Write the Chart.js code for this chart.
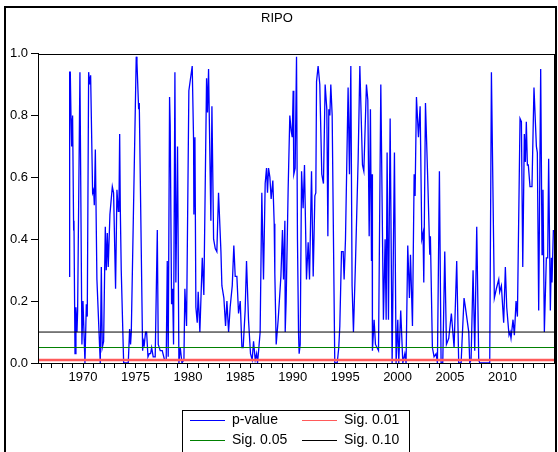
<!DOCTYPE html>
<html>
<head>
<meta charset="utf-8">
<script src="https://cdn.jsdelivr.net/npm/chart.js@4.4.1/dist/chart.umd.min.js"></script>
<style>
  body { margin: 0; background: #fff; }
  #wrap { width: 558px; height: 452px; }
</style>
</head>
<body>
<div id="wrap"><canvas id="ripo" width="558" height="452"></canvas></div>
<script>
// p-value series (decimal year, value)
var years = [1968.66,1968.72,1968.78,1968.85,1968.91,1969.00,1969.10,1969.13,1969.23,1969.32,1969.42,1969.48,1969.70,1969.89,1969.99,
  1970.18,1970.31,1970.40,1970.53,1970.63,1970.72,1970.91,1971.01,1971.07,1971.17,1971.32,1971.64,1971.74,1971.83,1971.96,
  1972.12,1972.21,1972.31,1972.40,1972.56,1972.79,1972.91,1973.10,1973.23,1973.36,1973.42,1973.49,1973.55,1973.64,1973.87,
  1974.31,1974.44,1974.53,1974.60,1975.07,1975.14,1975.30,1975.36,1975.68,1975.77,1975.84,1975.96,1976.06,1976.19,1976.31,
  1976.44,1976.54,1976.69,1976.88,1977.08,1977.17,1977.36,1977.55,1977.77,1977.93,1978.03,1978.12,1978.25,1978.31,1978.44,
  1978.54,1978.63,1978.76,1978.85,1979.01,1979.14,1979.27,1979.43,1979.62,1979.71,1979.87,1980.09,1980.41,1980.54,1980.57,
  1980.67,1980.76,1980.89,1980.98,1981.14,1981.37,1981.52,1981.78,1981.87,1981.97,1982.19,1982.29,1982.45,1982.61,1982.76,
  1982.92,1983.15,1983.24,1983.43,1983.59,1983.72,1983.88,1984.03,1984.23,1984.38,1984.51,1984.67,1984.83,1984.99,1985.15,
  1985.27,1985.46,1985.59,1985.78,1985.97,1986.13,1986.26,1986.42,1986.55,1986.64,1986.77,1986.89,1987.05,1987.21,1987.37,
  1987.50,1987.59,1987.69,1987.82,1987.94,1988.10,1988.23,1988.29,1988.42,1988.61,1988.87,1989.02,1989.12,1989.25,1989.28,
  1989.37,1989.56,1989.72,1989.85,1989.95,1990.04,1990.10,1990.23,1990.36,1990.45,1990.55,1990.61,1990.71,1990.84,1990.99,
  1991.12,1991.31,1991.47,1991.60,1991.79,1991.95,1992.11,1992.20,1992.27,1992.42,1992.58,1992.77,1992.93,1993.09,1993.25,
  1993.35,1993.44,1993.54,1993.63,1993.76,1994.01,1994.24,1994.39,1994.49,1994.65,1994.81,1994.90,1995.03,1995.28,1995.41,
  1995.54,1995.66,1995.79,1995.98,1996.24,1996.40,1996.65,1996.78,1997.03,1997.16,1997.29,1997.41,1997.51,1997.57,1997.60,
  1997.76,1997.89,1998.18,1998.40,1998.65,1998.81,1998.91,1999.00,1999.13,1999.29,1999.48,1999.70,1999.86,2000.02,2000.11,
  2000.30,2000.50,2000.69,2000.81,2000.97,2001.13,2001.23,2001.42,2001.58,2001.67,2001.80,2001.99,2002.15,2002.31,2002.43,
  2002.50,2002.66,2002.88,2003.07,2003.13,2003.32,2003.48,2003.67,2003.80,2003.99,2004.15,2004.31,2004.50,2004.66,2004.88,
  2005.13,2005.39,2005.64,2005.83,2006.06,2006.15,2006.34,2006.47,2006.79,2006.88,2007.01,2007.20,2007.36,2007.55,2007.74,
  2007.84,2008.79,2008.95,2009.23,2009.42,2009.65,2009.74,2009.90,2010.12,2010.28,2010.41,2010.63,2010.73,2010.82,2011.01,
  2011.14,2011.30,2011.43,2011.68,2011.81,2011.94,2012.09,2012.19,2012.28,2012.38,2012.47,2012.63,2012.82,2013.01,2013.24,
  2013.33,2013.46,2013.65,2013.78,2013.87,2014.00,2014.19,2014.32,2014.41,2014.57,2014.67,2014.73,2014.86]

var pvalue = [0.28,0.94,0.94,0.79,0.70,0.80,0.43,0.46,0.03,0.18,0.10,0.17,0.94,0.06,0.20,
  0.00,0.19,0.15,0.94,0.90,0.93,0.55,0.56,0.51,0.69,0.27,0.00,0.31,0.05,0.07,
  0.44,0.30,0.42,0.31,0.48,0.57,0.55,0.24,0.56,0.49,0.50,0.74,0.50,0.30,0.00,
  0.00,0.11,0.06,0.10,0.99,0.97,0.82,0.84,0.04,0.07,0.06,0.10,0.10,0.02,0.03,
  0.03,0.05,0.02,0.02,0.43,0.06,0.04,0.04,0.01,0.01,0.33,0.02,0.86,0.77,0.19,
  0.24,0.06,0.94,0.26,0.70,0.00,0.05,0.00,0.01,0.24,0.12,0.88,0.96,0.72,0.48,
  0.73,0.18,0.13,0.23,0.10,0.34,0.22,0.92,0.81,0.95,0.46,0.83,0.40,0.37,0.36,
  0.55,0.36,0.25,0.21,0.12,0.20,0.10,0.18,0.25,0.38,0.28,0.28,0.16,0.20,0.05,
  0.05,0.17,0.33,0.14,0.03,0.01,0.07,0.01,0.03,0.00,0.05,0.10,0.55,0.27,0.58,
  0.63,0.55,0.63,0.60,0.53,0.59,0.45,0.29,0.06,0.14,0.28,0.43,0.27,0.46,0.10,
  0.20,0.56,0.80,0.75,0.73,0.88,0.61,0.63,0.99,0.40,0.10,0.03,0.06,0.62,0.50,
  0.64,0.27,0.39,0.27,0.62,0.28,0.54,0.55,0.91,0.96,0.90,0.61,0.58,0.90,0.82,
  0.41,0.82,0.80,0.90,0.80,0.00,0.00,0.05,0.12,0.36,0.36,0.27,0.40,0.89,0.61,
  0.96,0.25,0.10,0.32,0.66,0.96,0.64,0.62,0.90,0.85,0.41,0.82,0.33,0.61,0.04,
  0.14,0.06,0.04,0.90,0.14,0.40,0.14,0.68,0.14,0.79,0.00,0.68,0.00,0.14,0.00,
  0.17,0.00,0.03,0.00,0.38,0.21,0.35,0.12,0.61,0.54,0.86,0.73,0.83,0.40,0.42,
  0.26,0.84,0.59,0.35,0.41,0.05,0.02,0.03,0.00,0.62,0.00,0.00,0.36,0.06,0.08,
  0.16,0.05,0.33,0.00,0.00,0.07,0.21,0.18,0.10,0.00,0.01,0.30,0.04,0.44,0.01,
  0.00,0.00,0.94,0.21,0.24,0.27,0.23,0.25,0.13,0.31,0.18,0.09,0.10,0.08,0.14,
  0.09,0.20,0.15,0.79,0.78,0.31,0.74,0.65,0.78,0.64,0.64,0.57,0.57,0.89,0.70,
  0.68,0.17,0.95,0.35,0.56,0.10,0.34,0.34,0.66,0.17,0.34,0.26,0.43]

var sigLevels = [0.01, 0.05, 0.10]
var sigLabels = ['Sig. 0.01', 'Sig. 0.05', 'Sig. 0.10']
var sigColors = ['rgb(255,90,90)', '#008000', '#000000']
var yTicks = [0.0, 0.2, 0.4, 0.6, 0.8, 1.0]
var xStart = 1965.7, xEnd = 2014.92

var points = []
for (var i = 0; i < years.length; i++) {
  points.push({x: years[i], y: pvalue[i]})
}

var datasets = [{
  label: 'p-value',
  data: points,
  borderColor: '#0000ff',
  borderWidth: 1.3,
  pointRadius: 0,
  tension: 0,
  order: 1
}]
for (var k = 0; k < sigLevels.length; k++) {
  datasets.push({
    label: sigLabels[k],
    data: [{x: xStart, y: sigLevels[k]}, {x: xEnd, y: sigLevels[k]}],
    borderColor: sigColors[k],
    borderWidth: k == 0 ? 2.5 : 1,
    pointRadius: 0,
    order: 0
  })
}

var font = {family: 'Arial, "Liberation Sans", sans-serif', size: 13}

// frame, plot box and the legend box
var extras = {
  id: 'extras',
  afterDraw: function(chart) {
    var c = chart.ctx, a = chart.chartArea
    c.save()
    c.strokeStyle = '#000'
    c.lineWidth = 1
    c.strokeRect(Math.round(a.left) + 0.5, Math.round(a.top) + 0.5, Math.round(a.right - a.left), Math.round(a.bottom - a.top))
    c.lineWidth = 2
    c.beginPath()
    c.moveTo(5, 460); c.lineTo(5, 7); c.lineTo(556, 7); c.lineTo(556, 460)
    c.stroke()

    // legend
    c.lineWidth = 1
    c.strokeRect(182.5, 410.5, 227, 45)
    var items = [
      {ds: 0, x: 190, y: 420},
      {ds: 1, x: 302, y: 420},
      {ds: 2, x: 190, y: 440},
      {ds: 3, x: 302, y: 440}
    ]
    c.font = '14px ' + font.family
    c.textBaseline = 'middle'
    c.fillStyle = '#000'
    items.forEach(function(it) {
      var d = chart.data.datasets[it.ds]
      c.strokeStyle = d.borderColor
      c.lineWidth = 1
      c.beginPath()
      c.moveTo(it.x, it.y + 0.5); c.lineTo(it.x + 35, it.y + 0.5)
      c.stroke()
      c.fillText(d.label, it.x + 42, it.y)
    })
    c.restore()
  }
}

new Chart(document.getElementById('ripo'), {
  type: 'line',
  data: {datasets: datasets},
  plugins: [extras],
  options: {
    responsive: false,
    animation: false,
    devicePixelRatio: 1,
    layout: {padding: {left: 0, right: 4, top: 0, bottom: 64}},
    plugins: {
      legend: {display: false},
      tooltip: {enabled: false},
      title: {
        display: true,
        text: 'RIPO',
        color: '#000',
        font: {family: font.family, size: 13, weight: 'normal'},
        padding: {top: 11, bottom: 27}
      }
    },
    scales: {
      x: {
        type: 'linear',
        min: xStart,
        max: xEnd,
        afterFit: function(s) { s.height = 25 },
        grid: {drawOnChartArea: false, color: '#000', tickLength: 5},
        border: {color: '#000'},
        ticks: {
          stepSize: 1,
          includeBounds: false,
          autoSkip: false,
          maxRotation: 0,
          padding: 2,
          color: '#000',
          font: font,
          callback: function(v) { return Math.round(v) % 5 == 0 ? String(Math.round(v)) : '' }
        }
      },
      y: {
        min: 0,
        max: 1,
        afterFit: function(s) { s.width = 38 },
        afterBuildTicks: function(s) { s.ticks = yTicks.map(function(v) { return {value: v} }) },
        grid: {drawOnChartArea: false, color: '#000', tickLength: 7},
        border: {color: '#000'},
        ticks: {
          padding: 3,
          color: '#000',
          font: font,
          callback: function(v) { return v.toFixed(1) }
        }
      }
    }
  }
})
</script>
</body>
</html>
